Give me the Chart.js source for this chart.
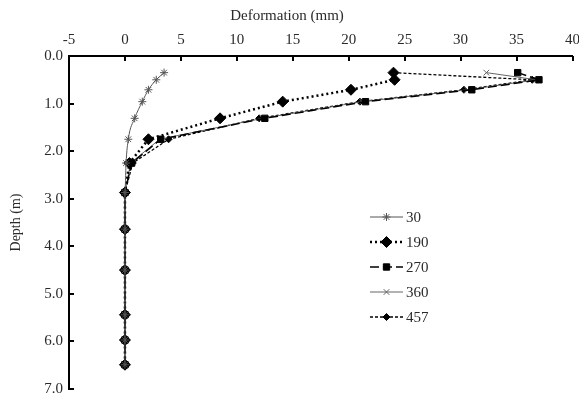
<!DOCTYPE html>
<html><head><meta charset="utf-8">
<script src="https://cdn.jsdelivr.net/npm/chart.js@4.4.1/dist/chart.umd.min.js"></script>
<style>html,body{margin:0;padding:0;background:#fff}</style>
</head><body>
<canvas id="c" width="579" height="407"></canvas>
<script>
// ---- data ----
const depths = [0.35, 0.5, 0.71, 0.96, 1.31, 1.75, 2.25, 2.87, 3.64, 4.5, 5.44, 5.97, 6.49];
const seriesNames = ['30', '190', '270', '360', '457'];
const def30  = [3.5, 2.8, 2.1, 1.55, 0.87, 0.3, 0.1, 0, 0, 0, 0, 0, 0];
const def190 = [24.0, 24.1, 20.2, 14.1, 8.5, 2.1, 0.4, 0, 0, 0, 0, 0, 0];
const def270 = [35.1, 37.0, 31.0, 21.5, 12.5, 3.2, 0.6, 0, 0, 0, 0, 0, 0];
const def360 = [32.3, 36.8, 30.6, 21.2, 12.3, 3.1, 0.5, 0, 0, 0, 0, 0, 0];
const def457 = [24.0, 36.4, 30.3, 21.0, 12.0, 3.9, 0.7, 0, 0, 0, 0, 0, 0];
const xTicks = [-5, 0, 5, 10, 15, 20, 25, 30, 35, 40];
const yTicks = [0, 1, 2, 3, 4, 5, 6, 7];
const xTitle = 'Deformation (mm)';
const yTitle = 'Depth (m)';

const FONT = "'Liberation Serif', 'Times New Roman', serif";
const TXT = '#2a2a2a';

function pts(vals) { return vals.map((v, i) => ({x: v, y: depths[i]})); }

const styles = [
  {color: '#555', width: 1, dash: [], pointStyle: 'star', radius: 4, pbw: 1, fill: '#555', tension: 0.35},
  {color: '#000', width: 2.5, dash: [2, 3], pointStyle: 'rectRot', radius: 5.5, pbw: 1, fill: '#000', tension: 0},
  {color: '#000', width: 1.5, dash: [9, 4], pointStyle: 'rect', radius: 4.5, pbw: 1, fill: '#000', tension: 0},
  {color: '#666', width: 1, dash: [], pointStyle: 'crossRot', radius: 4, pbw: 1, fill: '#666', tension: 0},
  {color: '#000', width: 1.3, dash: [3, 2], pointStyle: 'rectRot', radius: 3.5, pbw: 1, fill: '#000', tension: 0}
];
const seriesData = [def30, def190, def270, def360, def457];

const datasets = seriesNames.map((n, i) => ({
  label: n,
  data: pts(seriesData[i]),
  showLine: true,
  borderColor: styles[i].color,
  borderWidth: styles[i].width,
  borderDash: styles[i].dash,
  backgroundColor: styles[i].fill,
  pointStyle: styles[i].pointStyle,
  pointRadius: styles[i].radius,
  pointBorderWidth: styles[i].pbw,
  pointBorderColor: styles[i].fill,
  pointBackgroundColor: styles[i].fill,
  tension: styles[i].tension,
  cubicInterpolationMode: styles[i].tension ? 'monotone' : 'default'
}));

const tickPlugin = {
  id: 'innerTicks',
  beforeDatasetsDraw(chart) {
    const ctx = chart.ctx, x = chart.scales.x, y = chart.scales.y, a = chart.chartArea;
    ctx.save();
    ctx.strokeStyle = '#000';
    ctx.lineWidth = 2;
    xTicks.forEach(v => {
      const px = Math.round(x.getPixelForValue(v));
      ctx.beginPath(); ctx.moveTo(px, a.top); ctx.lineTo(px, a.top + 5); ctx.stroke();
    });
    yTicks.forEach(v => {
      const py = Math.round(y.getPixelForValue(v));
      ctx.beginPath(); ctx.moveTo(a.left, py); ctx.lineTo(a.left + 5, py); ctx.stroke();
    });
    ctx.restore();
  }
};

function drawMarker(ctx, st, cx, cy) {
  if (Chart.helpers && Chart.helpers.drawPoint) {
    ctx.fillStyle = st.fill; ctx.strokeStyle = st.fill; ctx.lineWidth = st.pbw; ctx.setLineDash([]);
    Chart.helpers.drawPoint(ctx, {pointStyle: st.pointStyle, radius: st.radius, rotation: 0, borderWidth: st.pbw}, cx, cy);
  }
}

const legendPlugin = {
  id: 'insideLegend',
  afterDraw(chart) {
    const ctx = chart.ctx;
    ctx.save();
    seriesNames.forEach((n, i) => {
      const st = styles[i];
      const y = 217 + i * 25;
      ctx.strokeStyle = st.color; ctx.lineWidth = st.width; ctx.setLineDash(st.dash);
      ctx.beginPath(); ctx.moveTo(370, y); ctx.lineTo(403, y); ctx.stroke();
      drawMarker(ctx, st, 386.5, y);
      ctx.setLineDash([]);
      ctx.fillStyle = TXT; ctx.font = '15px ' + FONT; ctx.textAlign = 'left'; ctx.textBaseline = 'middle';
      ctx.fillText(n, 406, y + 1);
    });
    ctx.restore();
  }
};

new Chart(document.getElementById('c'), {
  type: 'scatter',
  data: {datasets},
  plugins: [tickPlugin, legendPlugin],
  options: {
    responsive: false,
    animation: false,
    layout: {padding: {left: 0, top: 0, right: 5, bottom: 18}},
    plugins: {
      legend: {display: false},
      tooltip: {enabled: false},
      title: {display: true, text: xTitle, color: TXT, font: {family: FONT, size: 15, weight: 'normal'}, padding: {top: 7, bottom: 0}}
    },
    scales: {
      x: {
        type: 'linear', position: 'top', min: -5, max: 40,
        afterBuildTicks: s => { s.ticks = xTicks.map(v => ({value: v})); },
        afterFit: s => { s.height = 31; s.paddingLeft = 0; s.paddingRight = 0; },
        grid: {display: true, drawOnChartArea: false, drawTicks: false, color: 'rgba(0,0,0,0)'},
        border: {display: true, color: '#000', width: 2},
        ticks: {color: TXT, font: {family: FONT, size: 15}, padding: 7, maxRotation: 0, callback: v => String(v)}
      },
      y: {
        type: 'linear', position: 'left', min: 0, max: 7, reverse: true,
        afterBuildTicks: s => { s.ticks = yTicks.map(v => ({value: v})); },
        afterFit: s => { s.width = 69; s.paddingTop = 0; s.paddingBottom = 0; },
        grid: {display: true, drawOnChartArea: false, drawTicks: false, color: 'rgba(0,0,0,0)'},
        border: {display: true, color: '#000', width: 2},
        ticks: {color: TXT, font: {family: FONT, size: 15}, padding: 6, callback: v => Number(v).toFixed(1)},
        title: {display: true, text: yTitle, color: TXT, font: {family: FONT, size: 14}, padding: {top: 8, bottom: 0}}
      }
    }
  }
});
</script>
</body></html>
